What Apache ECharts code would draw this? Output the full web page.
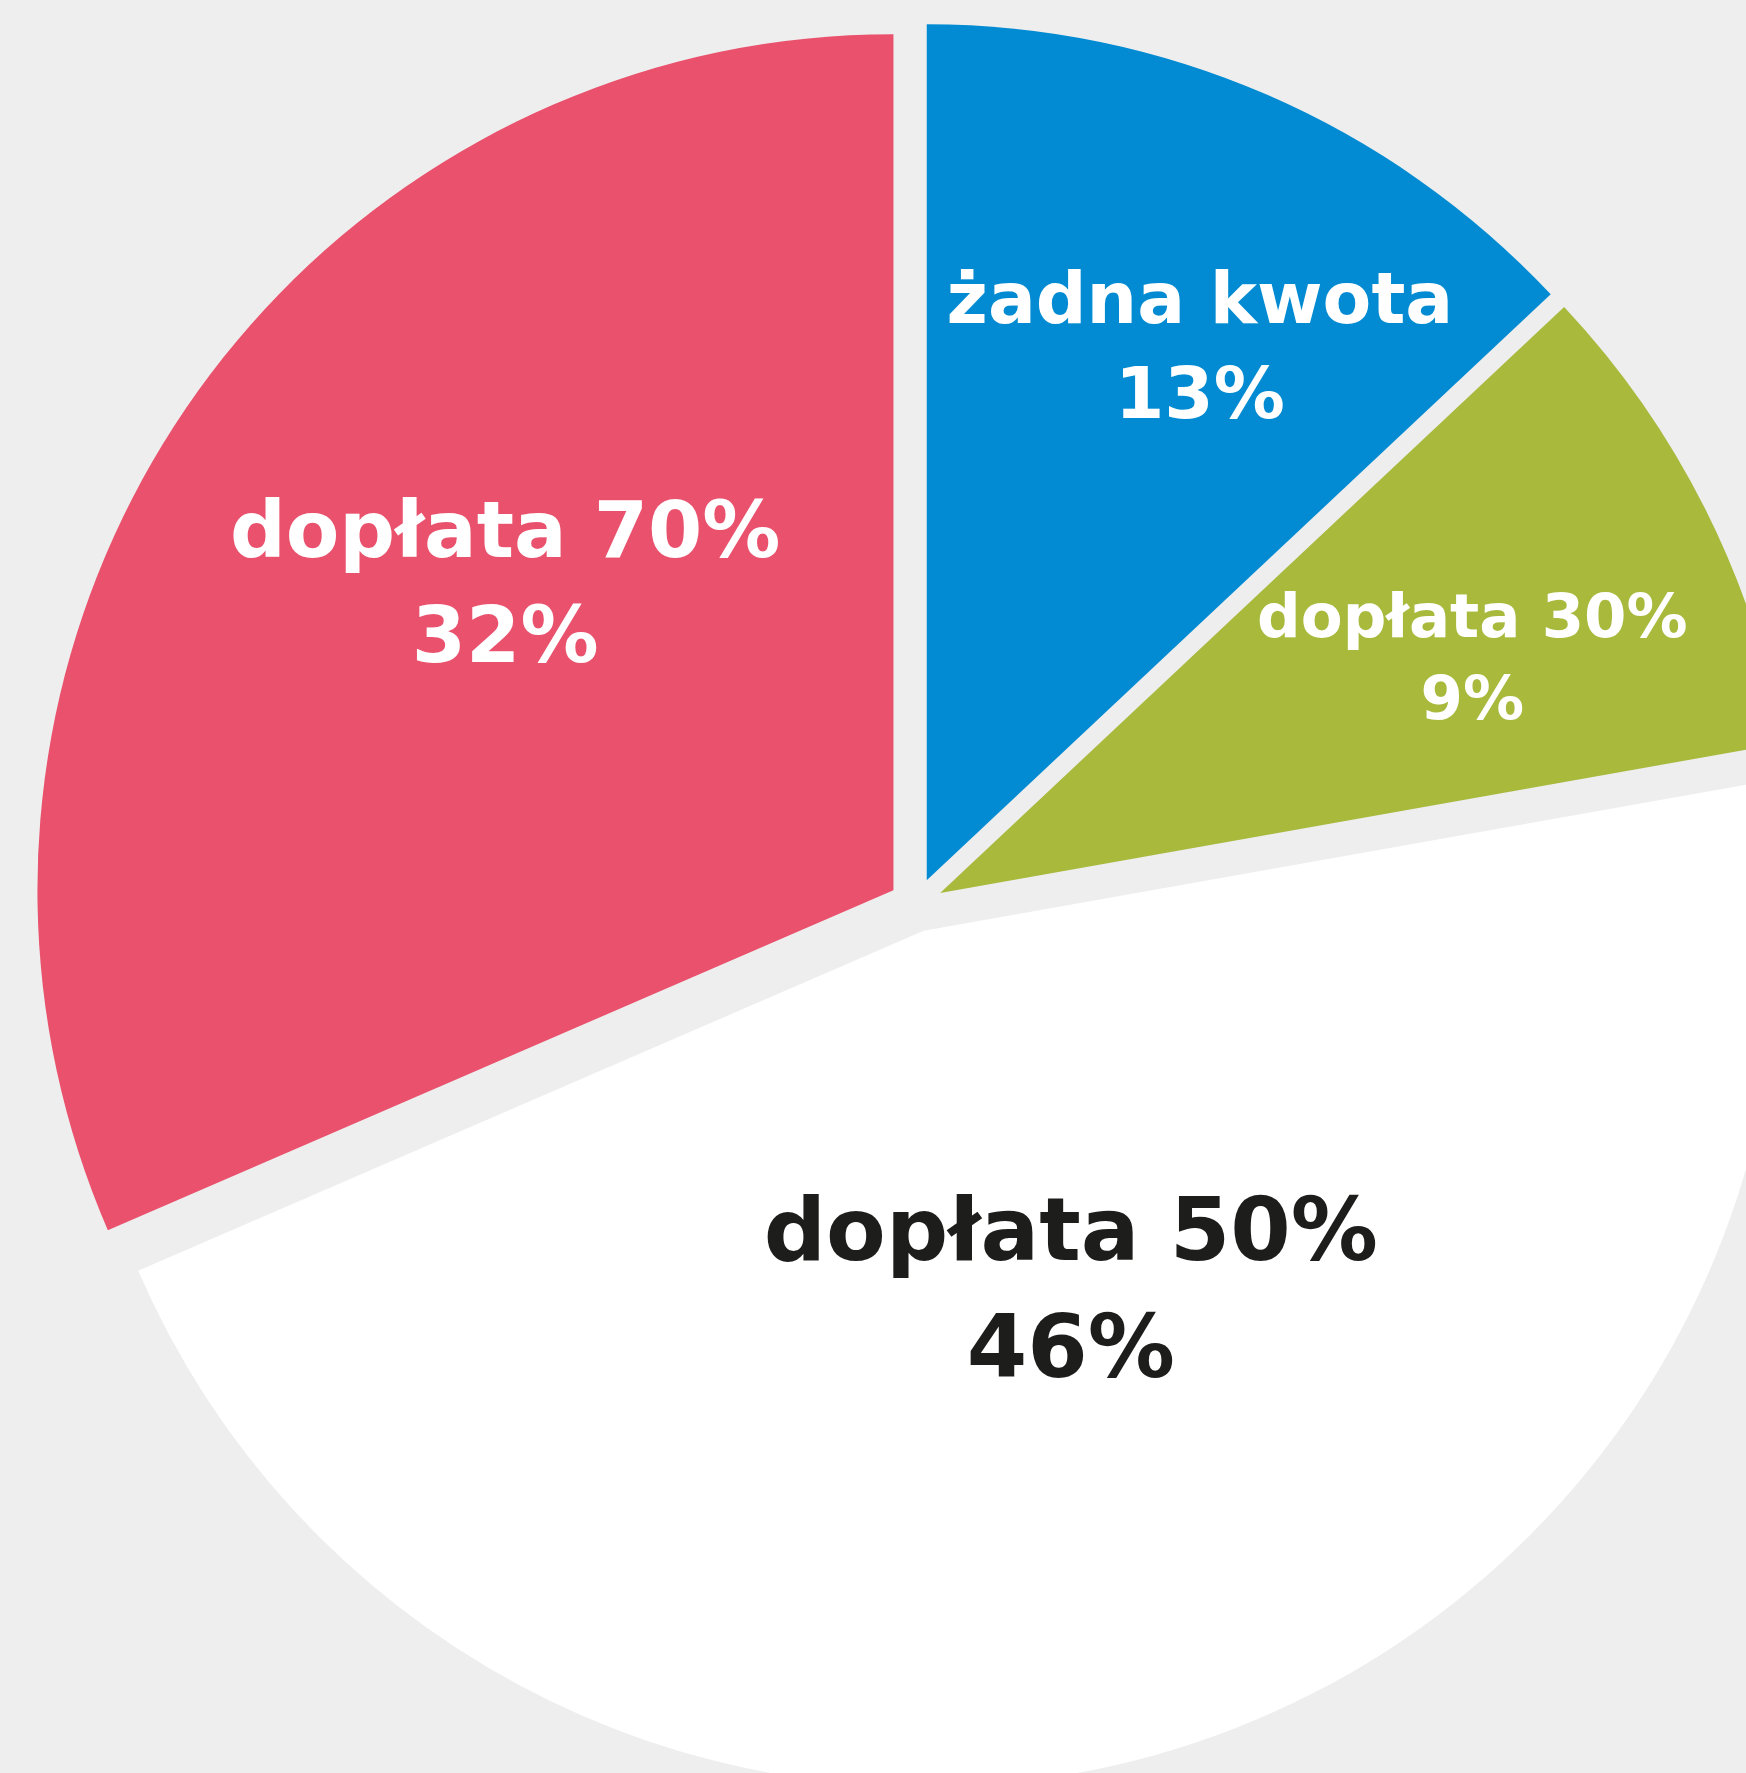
<!DOCTYPE html>
<html>
<head>
<meta charset="utf-8">
<script src="https://cdn.jsdelivr.net/npm/echarts@6/dist/echarts.min.js"></script>
<style>
  html, body { margin: 0; padding: 0; background: #eeeeee; }
  #chart { width: 1746px; height: 1773px; }
</style>
</head>
<body>
<div id="chart"></div>
<script>
const categories = ['żadna kwota', 'dopłata 30%', 'dopłata 50%', 'dopłata 70%'];
const shares = [13.0, 9.2, 46.3, 31.5];

// kolory i etykiety
const colors = ['#028bd2', '#a8b93c', '#ffffff', '#e9516d'];
const labelColors = ['#ffffff', '#ffffff', '#1d1d1b', '#ffffff'];
const labelSizes = [71, 61, 87, 78];
const labelShift = [[102, -133], [147, -37], [23, -48], [-28, -64]];

const chart = echarts.init(document.getElementById('chart'));

const option = {
  backgroundColor: '#eeeeee',
  animation: false,
  series: [
    {
      type: 'pie',
      center: [916, 905],
      radius: 856,
      startAngle: 90,
      clockwise: true,
      selectedMode: 'multiple',
      selectedOffset: 27,
      silent: true,
      labelLine: { show: false },
      select: { itemStyle: { borderWidth: 0 } },
      labelLayout: params => ({
        dx: labelShift[params.dataIndex][0],
        dy: labelShift[params.dataIndex][1]
      }),
      data: categories.map((name, i) => ({
        name: name,
        value: shares[i],
        selected: true,
        itemStyle: { color: colors[i] },
        label: {
          show: true,
          position: 'inside',
          formatter: p => p.name + '\n' + Math.round(p.value) + '%',
          color: labelColors[i],
          fontFamily: 'DejaVu Sans',
          fontWeight: 'bold',
          fontSize: labelSizes[i],
          lineHeight: Math.round(labelSizes[i] * 1.34),
          align: 'center'
        }
      }))
    }
  ]
};

chart.setOption(option);
</script>
</body>
</html>
